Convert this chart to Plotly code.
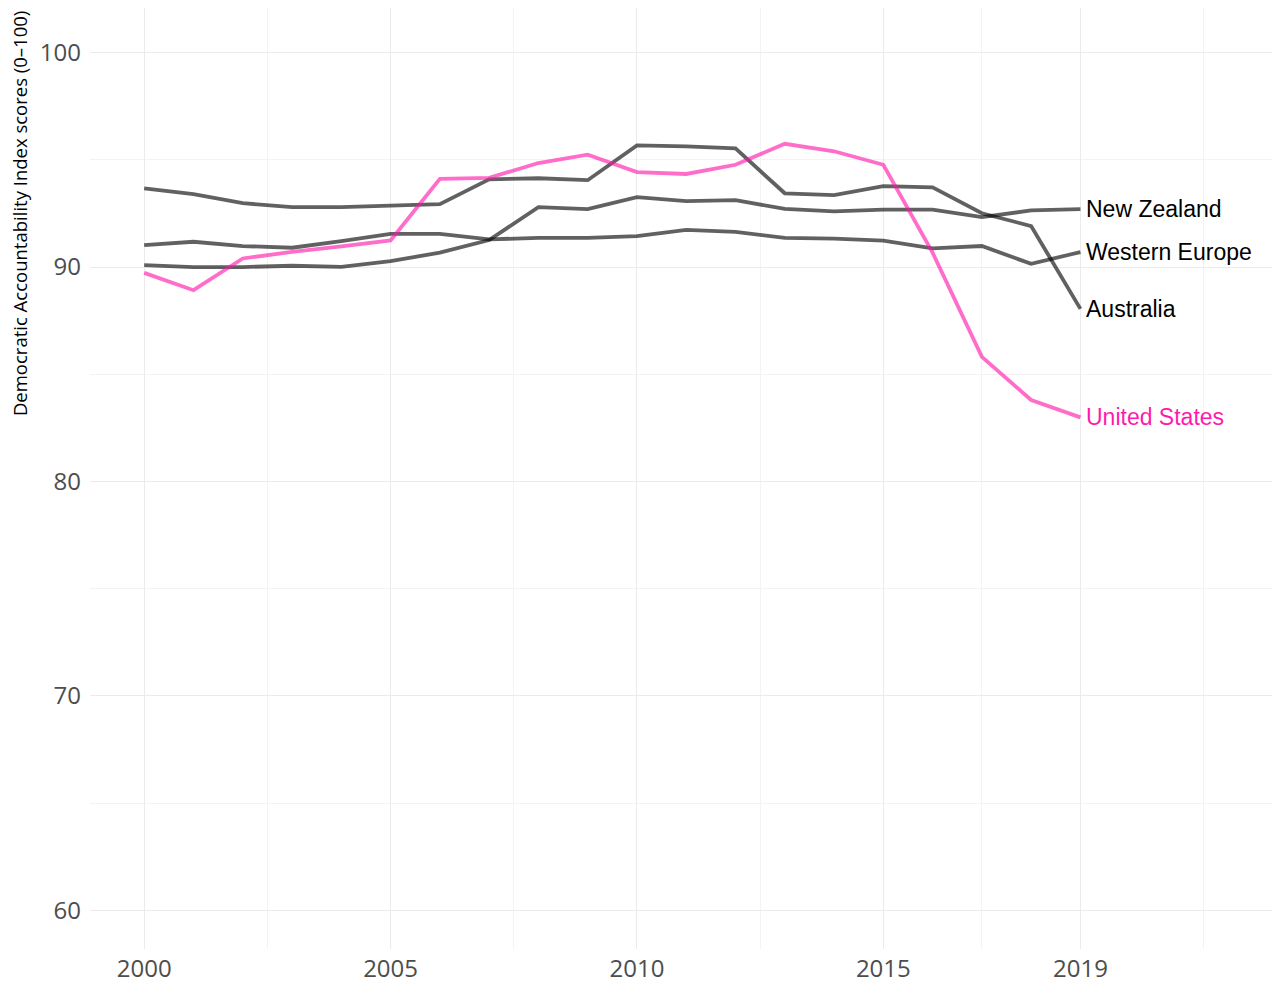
import plotly.graph_objects as go

years = list(range(2000, 2020))

australia = [93.67, 93.40, 92.98, 92.79, 92.79, 92.84, 92.93, 94.09, 94.14, 94.05,
             95.67, 95.63, 95.53, 93.44, 93.35, 93.77, 93.72, 92.51, 91.91, 88.05]
new_zealand = [90.09, 90.00, 90.00, 90.06, 90.01, 90.28, 90.67, 91.26, 92.79, 92.70,
               93.26, 93.07, 93.12, 92.71, 92.60, 92.68, 92.68, 92.33, 92.64, 92.70]
western_europe = [91.02, 91.18, 90.98, 90.90, 91.21, 91.55, 91.55, 91.29, 91.36, 91.36,
                  91.44, 91.73, 91.64, 91.36, 91.33, 91.23, 90.87, 90.98, 90.15, 90.70]
united_states = [89.73, 88.92, 90.40, 90.71, 90.96, 91.24, 94.11, 94.16, 94.85, 95.24,
                 94.43, 94.34, 94.77, 95.75, 95.40, 94.77, 90.67, 85.81, 83.80, 82.99]

series = [
    ("Australia", australia, "grey"),
    ("New Zealand", new_zealand, "grey"),
    ("Western Europe", western_europe, "grey"),
    ("United States", united_states, "pink"),
]

x_ticks = [2000, 2005, 2010, 2015, 2019]
x_minor = [2002.5, 2007.5, 2012.5, 2017, 2021.5]
y_ticks = [60, 70, 80, 90, 100]
y_minor = [65, 75, 85, 95]

line_colors = {"grey": "rgba(0,0,0,0.62)", "pink": "rgba(255,20,170,0.62)"}
text_colors = {"grey": "#000000", "pink": "#ff1aae"}

fig = go.Figure()
annotations = []
for name, vals, c in series:
    fig.add_trace(go.Scatter(x=years, y=vals, mode="lines", name=name,
                             line=dict(color=line_colors[c], width=3.8),
                             hoverinfo="x+y+name"))
    annotations.append(dict(x=years[-1], y=vals[-1], xref="x", yref="y",
                            text=name, showarrow=False, xanchor="left",
                            yanchor="middle", xshift=4,
                            font=dict(family="Liberation Sans, Arial, sans-serif",
                                      size=23, color=text_colors[c])))

annotations.append(dict(x=-0.0597, y=0.782, xref="paper", yref="paper",
                        text="Democratic Accountability Index scores (0–100)",
                        showarrow=False, textangle=-90, xanchor="center", yanchor="middle",
                        font=dict(family="Open Sans, sans-serif", size=18.5, color="#000000")))

grid_major = "#ebebeb"
grid_minor = "#f3f3f3"

fig.update_layout(
    width=1272, height=976,
    margin=dict(l=82, r=0, t=0, b=32),
    paper_bgcolor="white", plot_bgcolor="white",
    showlegend=False,
    annotations=annotations,
    font=dict(family="Open Sans, sans-serif"),
    xaxis=dict(range=[1998.9, 2023.05], tickvals=x_ticks, ticktext=[str(v) for v in x_ticks],
               showgrid=True, gridcolor=grid_major, gridwidth=1, zeroline=False,
               showline=False, ticks="", ticklabelstandoff=3,
               tickfont=dict(family="Open Sans, sans-serif", size=24, color="#4d4d4d"),
               minor=dict(tickvals=x_minor, showgrid=True, gridcolor=grid_minor, gridwidth=1)),
    yaxis=dict(range=[58.2, 102.08], tickvals=y_ticks, ticktext=[str(v) for v in y_ticks],
               showgrid=True, gridcolor=grid_major, gridwidth=1, zeroline=False,
               showline=False, ticks="", ticklabelstandoff=8,
               tickfont=dict(family="Open Sans, sans-serif", size=24, color="#4d4d4d"),
               minor=dict(tickvals=y_minor, showgrid=True, gridcolor=grid_minor, gridwidth=1)),
)

fig.write_html("out.html")
